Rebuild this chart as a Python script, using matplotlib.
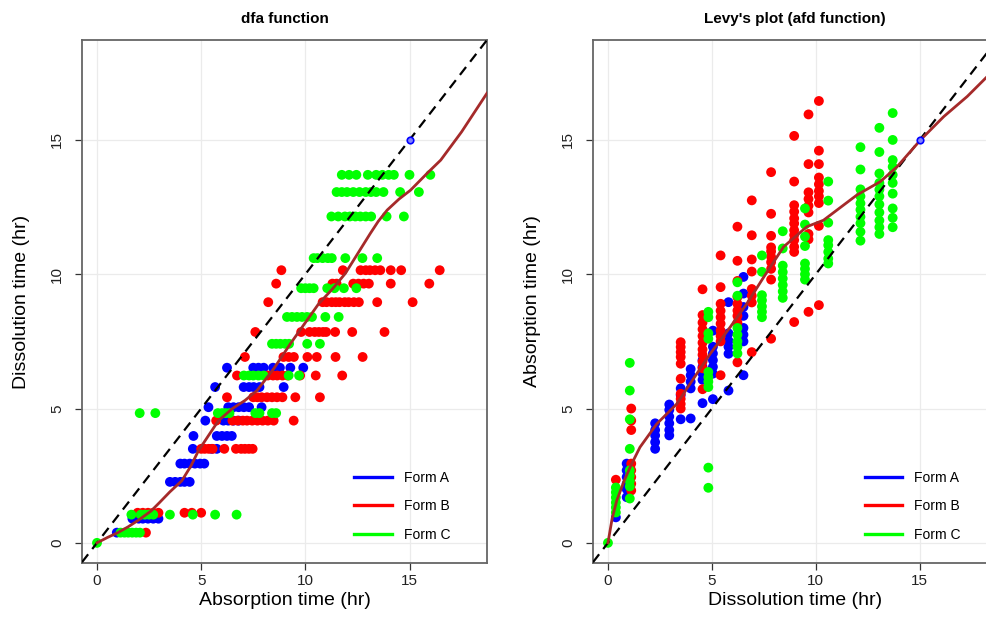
import numpy as np
import matplotlib
matplotlib.use("Agg")
import matplotlib.pyplot as plt
from matplotlib.lines import Line2D

plt.rcParams['font.family'] = ['Liberation Sans', 'DejaVu Sans']

# absorption times (hr) grouped by dissolution time level (hr)
form_a_rows = {
    0.38: [0.95],
    0.9: [1.7, 2.0, 2.2, 2.45, 2.7, 2.95],
    2.27: [3.5, 3.75, 4.0, 4.2, 4.45],
    2.95: [4.0, 4.2, 4.45, 4.7, 4.95, 5.15],
    3.5: [4.6, 5.5, 5.75],
    3.98: [4.63, 5.75, 6.0, 6.24, 6.47],
    4.55: [5.2, 6.07, 6.3, 6.55, 6.8],
    5.05: [5.35, 6.3, 6.55, 6.8, 7.05, 7.3, 7.9],
    5.8: [5.67, 7.04, 7.3, 7.52, 7.8, 8.96],
    6.52: [6.24, 7.5, 7.75, 8.0, 8.45, 8.78, 9.28, 9.9],
}
form_b_rows = {
    0.38: [2.35],
    1.12: [1.95, 2.2, 2.45, 2.7, 2.95, 4.2, 4.55, 5.0],
    3.5: [5.0, 5.17, 5.36, 5.55, 6.11, 6.67, 6.92, 7.1, 7.29, 7.47],
    4.55: [5.72, 6.5, 6.75, 7.0, 7.2, 7.45, 7.7, 7.95, 8.2, 8.48, 9.44],
    5.42: [6.24, 7.5, 7.7, 7.9, 8.16, 8.4, 8.64, 8.9, 9.52, 10.7],
    6.23: [6.72, 8.2, 8.45, 8.65, 8.9, 9.15, 9.75, 10.5, 11.77],
    6.92: [7.1, 8.95, 9.2, 9.45, 10.1, 10.55, 11.45, 12.75],
    7.85: [7.6, 9.8, 10.2, 10.45, 10.65, 10.85, 11.0, 11.43, 12.25, 13.8],
    8.96: [8.22, 10.83, 11.02, 11.27, 11.46, 11.64, 11.89, 12.08, 12.33, 12.57, 13.45, 15.15],
    9.65: [8.6, 11.3, 11.5, 12.3, 12.55, 12.8, 13.05, 14.1, 15.95],
    10.15: [8.85, 11.8, 12.65, 12.9, 13.1, 13.35, 13.6, 14.1, 14.6, 16.45],
}
form_c_rows = {
    0.0: [0.0],
    0.38: [1.13, 1.32, 1.5, 1.69, 1.88, 2.06],
    1.05: [1.65, 2.1, 2.3, 2.5, 2.7, 3.5, 4.6, 5.67, 6.7],
    4.83: [2.05, 2.8, 5.8, 6.0, 6.17, 6.36, 7.6, 7.8, 8.4, 8.6],
    6.23: [7.05, 7.3, 7.5, 7.75, 8.0, 9.2, 9.7],
    7.41: [8.4, 8.6, 8.8, 9.03, 9.22, 10.09, 10.7],
    8.41: [9.12, 9.36, 9.6, 9.84, 10.08, 10.32, 10.96, 11.6],
    9.48: [9.8, 10.0, 10.2, 10.4, 11.05, 11.4, 11.85, 12.45],
    10.6: [10.4, 10.58, 10.83, 11.08, 11.27, 11.92, 12.74, 13.45],
    12.15: [11.25, 11.58, 11.9, 12.14, 12.4, 12.64, 12.9, 13.16, 13.9, 14.73],
    13.06: [11.5, 11.75, 12.0, 12.3, 12.6, 12.9, 13.15, 13.4, 13.75, 14.55, 15.45],
    13.7: [11.75, 12.1, 12.45, 13.0, 13.4, 13.7, 14.0, 14.25, 15.0, 16.0],
}
ref_point = (15, 15)

# fitted curve, dfa function (absorption -> dissolution)
dfa_abs = [0, 0.5, 1.0, 1.5, 2.0, 2.6, 3.0, 3.5, 4.07, 4.5, 4.87, 5.4, 5.83, 6.5, 7.1,
           7.68, 8.5, 9.28, 10.0, 10.64, 11.3, 11.92, 12.5, 13.12, 13.5, 13.93, 14.5,
           15.05, 15.85, 16.5, 17.5, 18.72]
dfa_diss = [0, 0.2, 0.38, 0.6, 0.85, 1.19, 1.5, 1.9, 2.31, 2.85, 3.43, 4.05, 4.55, 5.0, 5.3,
            5.67, 6.5, 7.41, 8.2, 8.9, 9.45, 10.03, 10.75, 11.52, 11.97, 12.39, 12.8,
            13.13, 13.76, 14.25, 15.3, 16.74]

# fitted curve, afd function (dissolution -> absorption)
afd_diss = [0, 0.2, 0.42, 0.8, 1.14, 1.54, 2.35, 3.31, 3.95, 4.92, 5.88, 6.68, 7.5, 8.45,
            9.57, 10.37, 11.98, 13.11, 13.91, 15.04, 16.16, 17.29, 18.25, 18.72]
afd_abs = [0, 0.9, 1.57, 2.35, 2.94, 3.56, 4.43, 5.17, 5.92, 7.04, 8.03, 8.9, 9.9, 11.02,
           11.77, 12.01, 12.95, 13.45, 14.0, 15.0, 15.87, 16.62, 17.36, 17.7]

labels = ["Form A", "Form B", "Form C"]
colors = ["#0000ff", "#ff0000", "#00ff00"]
ticks = [0, 5, 10, 15]


def flatten(rows):
    ab, di = [], []
    for d, vals in rows.items():
        for a in vals:
            ab.append(a)
            di.append(d)
    return np.array(ab), np.array(di)


forms = [flatten(r) for r in (form_a_rows, form_b_rows, form_c_rows)]

fig = plt.figure(figsize=(9.87, 6.28), dpi=100)
ax1 = fig.add_axes([82 / 987, 65 / 628, 405 / 987, 523 / 628])
ax2 = fig.add_axes([593 / 987, 65 / 628, 404 / 987, 523 / 628])


def style(ax, title, xlab, ylab):
    ax.set_xlim(-0.72, 18.72)
    ax.set_ylim(-0.75, 18.72)
    ax.set_xticks(ticks)
    ax.set_yticks(ticks)
    ax.set_yticklabels([str(t) for t in ticks], rotation=90, va='center')
    ax.tick_params(direction='out', length=5, width=0.9, color='#333333',
                   labelsize=11, pad=3, labelcolor='#222222')
    ax.tick_params(axis='y', pad=8)
    ax.grid(True, color='#ebebeb', lw=0.9)
    ax.set_axisbelow(True)
    for s in ax.spines.values():
        s.set_color('#666666')
        s.set_linewidth(1.3)
    ax.set_title(title, fontsize=11, fontweight='bold', pad=12)
    ax.set_xlabel(xlab, fontsize=14, labelpad=3)
    ax.set_ylabel(ylab, fontsize=14, labelpad=14)
    handles = [Line2D([], [], color=c, lw=2.4) for c in colors]
    ax.legend(handles, labels, loc='upper left', bbox_to_anchor=(0.655, 0.19),
              frameon=False, fontsize=10, handlelength=2.7, handletextpad=0.85,
              labelspacing=1.05, borderpad=0)


for (ab, di), c in zip(forms, colors):
    ax1.scatter(ab, di, s=50, color=c, edgecolors='none', zorder=3)
    ax2.scatter(di, ab, s=50, color=c, edgecolors='none', zorder=3)

for ax in (ax1, ax2):
    ax.axline((0, 0), (1, 1), color='black', lw=1.6, ls=(0, (4.5, 3)), zorder=4)
    ax.scatter([ref_point[0]], [ref_point[1]], s=22, facecolor='#8080ff',
               edgecolors='#0000ff', lw=1.2, zorder=6)

ax1.plot(dfa_abs, dfa_diss, color='#a52a2a', lw=2, zorder=5)
ax2.plot(afd_diss, afd_abs, color='#a52a2a', lw=2, zorder=5)

style(ax1, "dfa function", "Absorption time (hr)", "Dissolution time (hr)")
style(ax2, "Levy's plot (afd function)", "Dissolution time (hr)", "Absorption time (hr)")

fig.savefig("out.png", dpi=100)
